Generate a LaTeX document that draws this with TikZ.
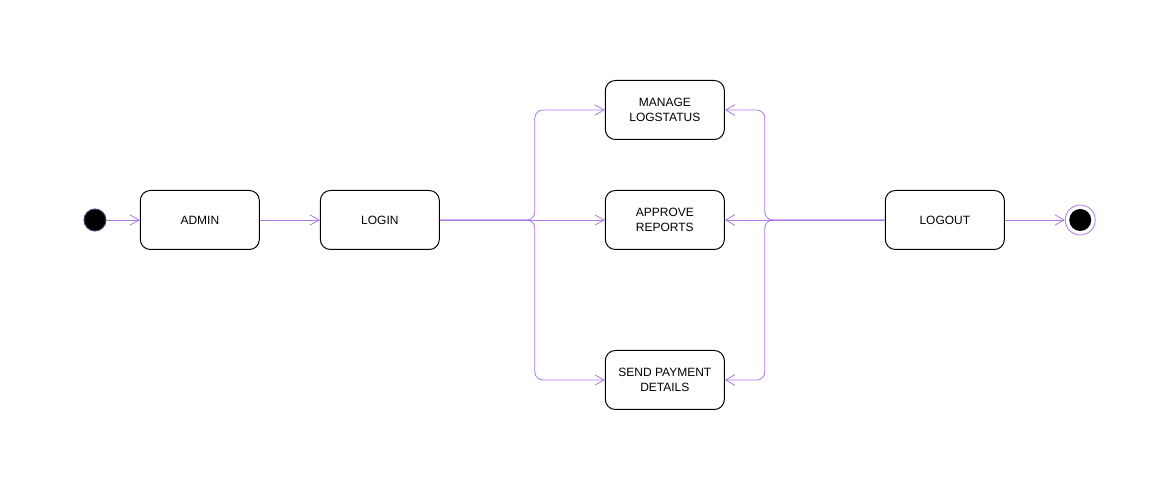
\documentclass[tikz,border=0pt]{standalone}
\usepackage{fontspec}
\setmainfont{Liberation Sans}
\usetikzlibrary{positioning}
\usetikzlibrary{arrows.meta}
\definecolor{lila}{RGB}{172,122,230}

\begin{document}
\begin{tikzpicture} [x=0.75pt, y=0.75pt, line width=0.75pt,
        main/.style = {draw, rounded corners=7.5pt, minimum width=89.25pt, minimum height=44.25pt, align=center, font=\fontsize{9}{11}\selectfont},
        flow/.style = {->, draw=lila, line width=0.6pt, rounded corners=6pt},
        >={Straight Barb[length=7pt, width=8pt]}]
        \useasboundingbox (-95,-271) rectangle (1081,220);

        %Knoten
        \node[circle, fill=black, draw=lila!50!black, minimum size=16.5pt, inner sep=0pt] (start) at (0,0) {};
        \node[main] (admin) [right = 25pt of start] {ADMIN};
        \node[main] (login) [right = 45pt of admin] {LOGIN};

        \node[main] (approve) [right = 123.75pt of login] {APPROVE\\REPORTS};
        \node[main] (manage) [above = 37.5pt of approve] {MANAGE\\LOGSTATUS};
        \node[main] (send) [below = 75pt of approve] {SEND PAYMENT\\DETAILS};

        \node[main] (logout) [right = 120pt of approve] {LOGOUT};
        \node[circle, draw=lila, line width=0.6pt, minimum size=22.5pt, inner sep=0pt] (end) [right = 45pt of logout] {};
        \fill (end) circle (8.25pt);

        \coordinate (fork) at ([xshift=71.25pt]login.east);
        \coordinate (join) at ([xshift=-90pt]logout.west);

        %Kanten
        \draw[flow] (start) -- (admin);
        \draw[flow] (admin) -- (login);

        \draw[flow] (login.east) -- (fork) |- (manage.west);
        \draw[flow] (login.east) -- (approve.west);
        \draw[flow] (login.east) -- (fork) |- (send.west);

        \draw[flow] (logout.west) -- (join) |- (manage.east);
        \draw[flow] (logout.west) -- (approve.east);
        \draw[flow] (logout.west) -- (join) |- (send.east);

        \draw[flow] (logout) -- (end);

    \end{tikzpicture}
\end{document}
